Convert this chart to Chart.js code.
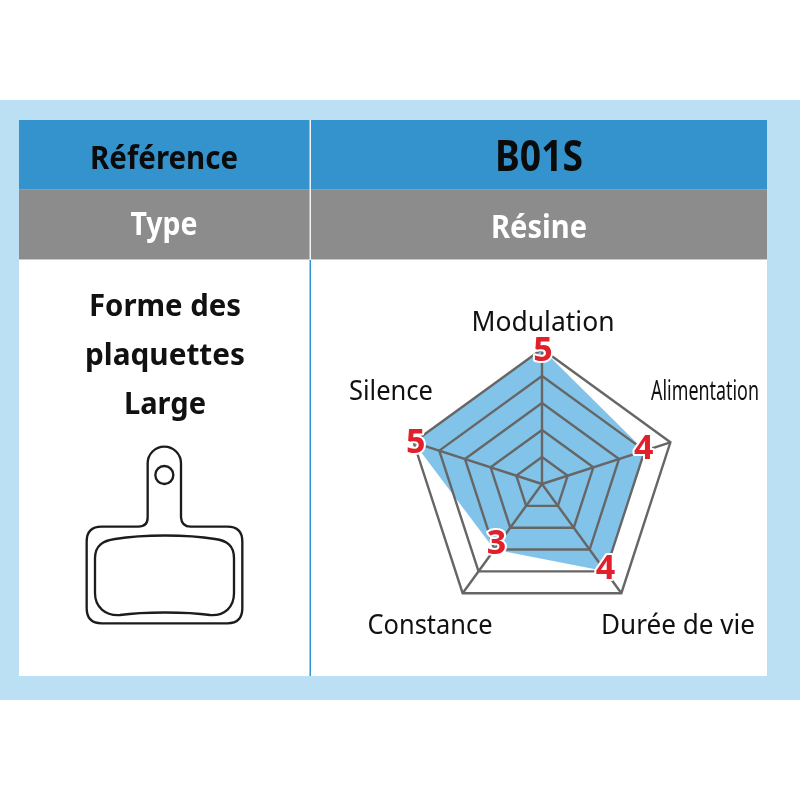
<!DOCTYPE html>
<html>
<head>
<meta charset="utf-8">
<title>B01S</title>
<style>
    html, body { margin: 0; padding: 0; background: #fff; }
    canvas { display: block; }
</style>
<script src="https://cdn.jsdelivr.net/npm/chart.js@4"></script>
</head>
<body>
<canvas id="radar" width="800" height="800"></canvas>
<script>
const categories = ['Modulation', 'Alimentation', 'Durée de vie', 'Constance', 'Silence'];
const ratings = [5, 4, 4, 3, 5];
const ratingMax = 5;

// text, center x, center y, width on the page, style
const tableTexts = [
    ['Référence', 164, 160, 148, '700 32px "Noto Sans"', '#0b0b0b'],
    ['B01S', 539, 159, 88, '700 43px "Noto Sans"', '#0b0b0b'],
    ['Type', 164, 226, 67, '700 32px "Noto Sans"', '#fff'],
    ['Résine', 539, 229, 96, '700 32px "Noto Sans"', '#fff'],
    ['Forme des', 165, 307, 152, '700 31px "Noto Sans"', '#111'],
    ['plaquettes', 165, 356, 160, '700 31px "Noto Sans"', '#111'],
    ['Large', 165, 405, 82, '700 31px "Noto Sans"', '#111']
];

// where each axis name sits, same order as categories
const labelSpots = [
    [543, 323, 143],
    [705, 392, 108],
    [678, 626, 154],
    [430, 626, 125],
    [391, 392, 84]
];
const numberNudge = [[1, 2], [-1, -1], [0, -2], [2, -5], [2, 1]];

function fitText(ctx, text, x, y, width, font, color) {
    ctx.save();
    ctx.font = font;
    ctx.fillStyle = color;
    ctx.textAlign = 'center';
    ctx.textBaseline = 'middle';
    const natural = ctx.measureText(text).width;
    ctx.translate(x, y);
    ctx.scale(width / natural, 1);
    ctx.fillText(text, 0, 0);
    ctx.restore();
}

function drawPad(ctx) {
    ctx.save();
    ctx.translate(70, 430);
    ctx.scale(1 / 3, 1 / 3);
    ctx.strokeStyle = '#1c1c1c';
    ctx.lineWidth = 7;

    ctx.beginPath();
    ctx.moveTo(233, 100);
    ctx.arc(283, 100, 50, Math.PI, 0);
    ctx.lineTo(333, 262);
    ctx.quadraticCurveTo(335, 290, 362, 290);
    ctx.lineTo(472, 290);
    ctx.quadraticCurveTo(517, 290, 517, 335);
    ctx.lineTo(517, 535);
    ctx.quadraticCurveTo(517, 580, 472, 580);
    ctx.lineTo(95, 580);
    ctx.quadraticCurveTo(50, 580, 50, 535);
    ctx.lineTo(50, 335);
    ctx.quadraticCurveTo(50, 290, 95, 290);
    ctx.lineTo(205, 290);
    ctx.quadraticCurveTo(233, 290, 233, 262);
    ctx.closePath();
    ctx.stroke();

    ctx.beginPath();
    ctx.moveTo(75, 385);
    ctx.bezierCurveTo(75, 345, 100, 332, 135, 327);
    ctx.bezierCurveTo(220, 313, 350, 313, 435, 327);
    ctx.bezierCurveTo(470, 332, 492, 345, 492, 385);
    ctx.lineTo(492, 490);
    ctx.bezierCurveTo(492, 530, 465, 558, 420, 555);
    ctx.bezierCurveTo(350, 545, 220, 545, 150, 555);
    ctx.bezierCurveTo(105, 558, 75, 530, 75, 490);
    ctx.closePath();
    ctx.stroke();

    ctx.beginPath();
    ctx.arc(283, 135, 27, 0, Math.PI * 2);
    ctx.stroke();
    ctx.restore();
}

const tablePlugin = {
    id: 'tablePlugin',
    beforeDraw(chart) {
        const ctx = chart.ctx;
        ctx.save();
        ctx.fillStyle = '#fff';
        ctx.fillRect(0, 0, 800, 800);
        ctx.fillStyle = '#bbdff3';
        ctx.fillRect(0, 100, 800, 600);
        ctx.fillStyle = '#fff';
        ctx.fillRect(19, 120, 748, 556);
        ctx.fillStyle = '#3493cd';
        ctx.fillRect(19, 120, 748, 69);
        ctx.fillStyle = '#8c8c8c';
        ctx.fillRect(19, 190, 748, 69);
        ctx.fillStyle = '#67a8d2';
        ctx.fillRect(19, 189, 748, 1);
        ctx.fillStyle = '#c9c9c9';
        ctx.fillRect(19, 259, 748, 1);
        ctx.fillStyle = '#eef3f6';
        ctx.fillRect(309.5, 120, 1.5, 140);
        ctx.fillStyle = '#2f95d6';
        ctx.fillRect(309.5, 260, 1.5, 416);
        ctx.restore();

        tableTexts.forEach(t => fitText(ctx, t[0], t[1], t[2], t[3], t[4], t[5]));
        drawPad(ctx);

        categories.forEach((name, i) => {
            const spot = labelSpots[i];
            fitText(ctx, name, spot[0], spot[1], spot[2], '400 28px "Noto Sans"', '#111');
        });
    },
    afterDraw(chart) {
        const ctx = chart.ctx;
        const scale = chart.scales.r;
        ctx.save();
        ctx.font = '700 34px "Noto Sans"';
        ctx.textAlign = 'center';
        ctx.textBaseline = 'middle';
        ctx.lineJoin = 'round';
        ratings.forEach((value, i) => {
            const p = scale.getPointPositionForValue(i, value);
            const x = p.x + numberNudge[i][0];
            const y = p.y + numberNudge[i][1];
            ctx.strokeStyle = '#fff';
            ctx.lineWidth = 4;
            ctx.strokeText(String(value), x, y);
            ctx.fillStyle = '#e0202b';
            ctx.fillText(String(value), x, y);
        });
        ctx.restore();
    }
};

new Chart(document.getElementById('radar'), {
    type: 'radar',
    data: {
        labels: categories,
        datasets: [{
            data: ratings,
            backgroundColor: '#82c4e9',
            borderWidth: 0,
            pointRadius: 0,
            fill: true
        }]
    },
    options: {
        responsive: false,
        animation: false,
        layout: {
            padding: { left: 407, right: 123, top: 349, bottom: 181 }
        },
        plugins: {
            legend: { display: false },
            tooltip: { enabled: false }
        },
        scales: {
            r: {
                min: 0,
                max: ratingMax,
                ticks: { display: false, stepSize: 1 },
                pointLabels: { display: false },
                grid: { color: '#666', lineWidth: 2.4, z: 1 },
                angleLines: { color: '#666', lineWidth: 2.4 }
            }
        }
    },
    plugins: [tablePlugin]
});
</script>
</body>
</html>
